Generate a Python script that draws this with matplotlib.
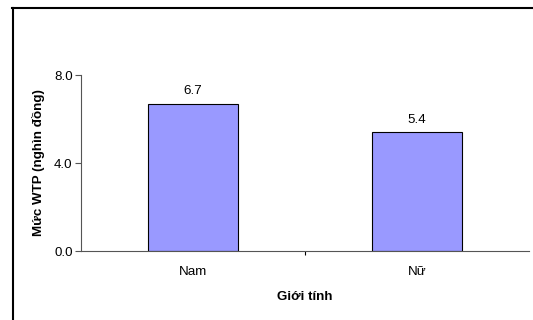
import matplotlib
matplotlib.use('Agg')
from matplotlib import pyplot as plt
from matplotlib.lines import Line2D

categories = ['Nam', 'Nữ']
values = [6.7, 5.4]
yticks = [0.0, 4.0, 8.0]

plt.rcParams['font.family'] = ['Liberation Sans', 'DejaVu Sans']
fs = 9.6

fig = plt.figure(figsize=(5.33, 3.2), dpi=100)
ax = fig.add_axes([81 / 533, 1 - 251 / 320, 448 / 533, 176 / 320])

x = range(len(categories))
bars = ax.bar(x, values, width=0.4, color='#9999FF', edgecolor='black', linewidth=0.8)
for b, v in zip(bars, values):
    ax.annotate('%.1f' % v, (b.get_x() + b.get_width() / 2, v), xytext=(0, 4.5),
                textcoords='offset points', ha='center', va='bottom', fontsize=fs)

ax.set_xlim(-0.5, 1.5)
ax.set_ylim(0, 8)
ax.set_yticks(yticks)
ax.set_yticklabels(['%.1f' % t for t in yticks], fontsize=fs)
ax.set_xticks([0.5], minor=True)
ax.set_xticks(list(x))
ax.set_xticklabels(categories, fontsize=fs)
ax.tick_params(axis='x', which='major', length=0, pad=11)
ax.tick_params(axis='x', which='minor', length=3, width=0.8, color='black')
ax.tick_params(axis='y', length=4, width=0.8, color='#555555', pad=2)

for s in ['top', 'right']:
    ax.spines[s].set_visible(False)
ax.spines['left'].set_color('#555555')
ax.spines['bottom'].set_color('#555555')
ax.spines['left'].set_linewidth(0.8)
ax.spines['bottom'].set_linewidth(0.8)

ax.set_xlabel('Giới tính', fontsize=fs, fontweight='bold', labelpad=9)
ax.set_ylabel('Mức WTP (nghìn đồng)', fontsize=fs, fontweight='bold', labelpad=6.5)

# khung ngoài (chỉ thấy cạnh trái và trên)
fig.add_artist(Line2D([12.5 / 533, 12.5 / 533], [0, 1 - 8 / 320], transform=fig.transFigure, color='black', linewidth=1.5))
fig.add_artist(Line2D([12 / 533, 1], [1 - 8 / 320, 1 - 8 / 320], transform=fig.transFigure, color='black', linewidth=1.5))

fig.savefig('out.png', dpi=100)
plt.close()
